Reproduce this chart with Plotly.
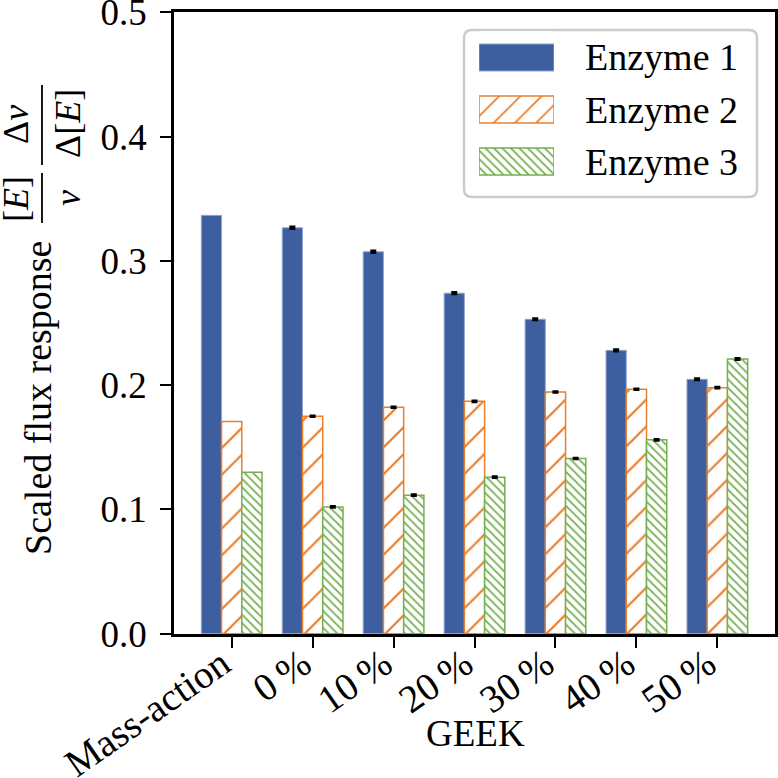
import plotly.graph_objects as go

# ---------------- data ----------------
categories = ["Mass-action", "0\u2009%", "10\u2009%", "20\u2009%", "30\u2009%", "40\u2009%", "50\u2009%"]
series_names = ["Enzyme 1", "Enzyme 2", "Enzyme 3"]
enzyme1 = [0.3366, 0.3266, 0.3073, 0.2740, 0.2530, 0.2280, 0.2047]
enzyme2 = [0.1707, 0.1750, 0.1822, 0.1870, 0.1945, 0.1967, 0.1980]
enzyme3 = [0.1300, 0.1020, 0.1115, 0.1260, 0.1410, 0.1560, 0.2210]
# error bars exist for the GEEK categories only (not for Mass-action)
err1 = [0.0009, 0.0009, 0.0008, 0.0008, 0.0008, 0.0007]
err2 = [0.0006, 0.0006, 0.0006, 0.0006, 0.0006, 0.0006]
err3 = [0.0006, 0.0006, 0.0006, 0.0006, 0.0006, 0.0007]
y_ticks = [0.0, 0.1, 0.2, 0.3, 0.4, 0.5]

# ---------------- styles ----------------
FONT = "Liberation Serif, DejaVu Serif, serif"
W = H = 778
L, R, T, B = 174, 3, 12, 144
PW, PH = W - L - R, H - T - B

def px_x(px):
    return (px - L) / PW

def px_y(py):
    return (H - B - py) / PH

BLUE = "#3d5f9f"
ORANGE = "#ea7f2e"
GREEN = "#74b04f"

styles = [
    dict(color=BLUE, line=dict(color="#93a6cf", width=1)),
    dict(color="white", line=dict(color=ORANGE, width=1.5),
         pattern=dict(shape="/", fgcolor=ORANGE, bgcolor="white", size=19, solidity=0.12,
                      fillmode="replace", fgopacity=1)),
    dict(color="white", line=dict(color=GREEN, width=1.5),
         pattern=dict(shape="\\", fgcolor=GREEN, bgcolor="white", size=6, solidity=0.3,
                      fillmode="replace", fgopacity=1)),
]

fig = go.Figure()
for i, (name, vals, st) in enumerate(zip(series_names, [enzyme1, enzyme2, enzyme3], styles)):
    fig.add_trace(go.Bar(x=categories, y=vals, name=name, marker=st, showlegend=False,
                         offsetgroup=str(i)))
for i, (vals, errs) in enumerate(zip([enzyme1, enzyme2, enzyme3], [err1, err2, err3])):
    fig.add_trace(go.Bar(
        x=categories[1:], y=vals[1:], showlegend=False, offsetgroup=str(i),
        marker=dict(color="rgba(0,0,0,0)", line=dict(width=0)), hoverinfo="skip",
        error_y=dict(type="data", array=errs, color="black", thickness=2.2, width=3, visible=True),
    ))

# ---------------- custom legend (keys drawn through an inset axis) ----------------
key_y = [0, 1, 2]
for name, yk, st, sz in zip(series_names, key_y, styles, [None, 15, 6]):
    m = dict(st)
    if "pattern" in m:
        m = dict(m, pattern=dict(m["pattern"], size=sz))
    fig.add_trace(go.Bar(x=[1], y=[yk], orientation="h", width=0.52, offset=-0.26,
                         xaxis="x2", yaxis="y2", showlegend=False, marker=m, hoverinfo="skip"))

annotations = []
row_centers = [57.5, 109.5, 161.5]
for name, rc in zip(series_names, row_centers):
    annotations.append(dict(text=name, x=px_x(583), y=px_y(rc), xref="paper", yref="paper",
                            xanchor="left", yanchor="middle", showarrow=False,
                            font=dict(family=FONT, size=38, color="black")))

# rounded legend frame
x0, x1 = px_x(464), px_x(757)
y0, y1 = px_y(197), px_y(30)
rx, ry = 8 / PW, 8 / PH
path = (f"M{x0+rx},{y0} L{x1-rx},{y0} Q{x1},{y0} {x1},{y0+ry} L{x1},{y1-ry} Q{x1},{y1} {x1-rx},{y1} "
        f"L{x0+rx},{y1} Q{x0},{y1} {x0},{y1-ry} L{x0},{y0+ry} Q{x0},{y0} {x0+rx},{y0} Z")
shapes = [dict(type="path", path=path, xref="paper", yref="paper", layer="below",
               line=dict(color="#cccccc", width=2.5), fillcolor="rgba(255,255,255,0.8)")]

# ---------------- y-axis title with fractions ----------------
def rot_ann(text, cx, cy, size=36):
    return dict(text=text, x=px_x(cx), y=px_y(cy), xref="paper", yref="paper", textangle=-90,
                xanchor="center", yanchor="middle", showarrow=False,
                font=dict(family=FONT, size=size, color="black"))

annotations += [
    rot_ann("Scaled flux response", 38, 398, size=38),
    rot_ann("[<i>E</i>]", 16, 199),
    rot_ann("<i>v</i>", 68, 198),
    rot_ann("Δ<i>v</i>", 16, 125),
    rot_ann("Δ[<i>E</i>]", 68, 124),
]
for (yt, yb) in [(173, 223), (85, 165)]:
    shapes.append(dict(type="line", xref="paper", yref="paper", x0=px_x(42), x1=px_x(42),
                       y0=px_y(yb), y1=px_y(yt), line=dict(color="black", width=1.8)))

annotations.append(dict(text="GEEK", x=px_x(475), y=px_y(733), xref="paper", yref="paper",
                        xanchor="center", yanchor="middle", showarrow=False,
                        font=dict(family=FONT, size=37, color="black")))

fig.update_layout(
    width=W, height=H, margin=dict(l=L, r=R, t=T, b=B, pad=0, autoexpand=False),
    paper_bgcolor="white", plot_bgcolor="white",
    barmode="group", bargap=0.25, bargroupgap=0,
    font=dict(family=FONT, size=34, color="black"),
    showlegend=False,
    annotations=annotations, shapes=shapes,
    xaxis=dict(type="category", range=[-0.7125, 6.7125], showgrid=False, zeroline=False, automargin=False,
               showline=True, linecolor="black", linewidth=2.5, mirror=True,
               ticks="outside", ticklen=11, tickwidth=2.2, tickcolor="black", tickangle=-35,
               ticklabelstandoff=-22, ticklabelshift=-10, ticklabeloverflow="allow",
               tickfont=dict(family=FONT, size=39)),
    yaxis=dict(range=[-0.0002, 0.5002], tickvals=y_ticks, tickformat=".1f", showgrid=False, zeroline=False,
               automargin=False, ticklabeloverflow="allow",
               showline=True, linecolor="black", linewidth=2.5, mirror=True,
               ticks="outside", ticklen=11, tickwidth=2.2, tickcolor="black",
               tickfont=dict(family=FONT, size=37), ticklabelstandoff=6),
    xaxis2=dict(domain=[px_x(479), px_x(554)], range=[0, 1], anchor="y2", visible=False, fixedrange=True),
    yaxis2=dict(domain=[px_y(187.5), px_y(31.5)], range=[2.5, -0.5], anchor="x2", visible=False, fixedrange=True),
)

fig.write_html("out.html", config={"displayModeBar": False},
               post_script="document.body.style.margin='0';document.body.style.overflow='hidden';")
